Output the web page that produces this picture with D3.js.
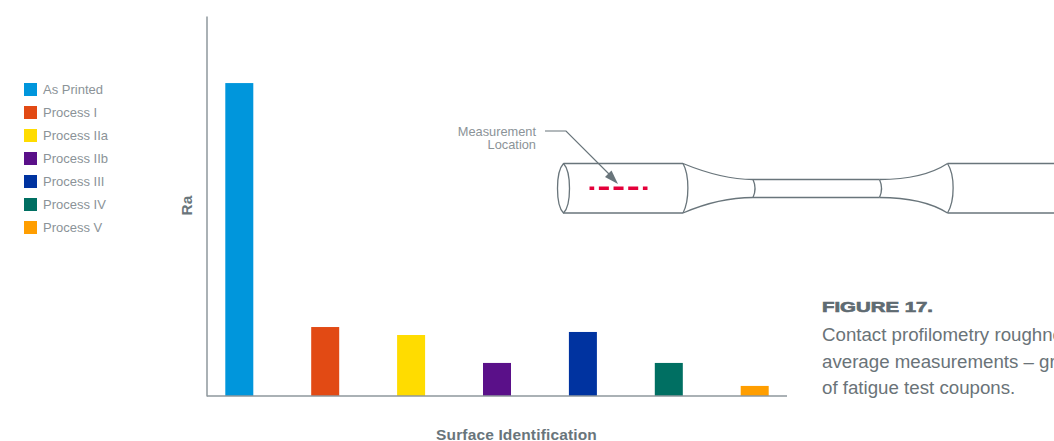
<!DOCTYPE html>
<html>
<head>
<meta charset="utf-8">
<script src="https://cdnjs.cloudflare.com/ajax/libs/d3/7.8.5/d3.min.js"></script>
<style>
  html, body { margin: 0; padding: 0; background: #fff; overflow: hidden; }
  svg { display: block; font-family: "Liberation Sans", sans-serif; }
</style>
</head>
<body>
<script>
// values are read off the bars, the chart has no y ticks so the unit is arbitrary
var categories = ["As Printed", "Process I", "Process IIa", "Process IIb", "Process III", "Process IV", "Process V"];
var roughness = [16.47, 3.63, 3.21, 1.74, 3.37, 1.74, 0.53];
var colors = ["#0096dc", "#e24a14", "#ffdc00", "#5a1089", "#0033a0", "#006f62", "#ff9e00"];
var captionLines = ["Contact profilometry roughness", "average measurements \u2013 grip section", "of fatigue test coupons."];
var calloutLines = ["Measurement", "Location"];

var width = 1054, height = 441;
var axisColor = "#8e979c", drawColor = "#69757b", lightText = "#8b9398";

var svg = d3.select("body").append("svg")
  .attr("width", width)
  .attr("height", height);

var x = d3.scaleBand()
  .domain(categories)
  .range([207, 787])
  .paddingInner(0.674)
  .paddingOuter(0.213);

var y = d3.scaleLinear()
  .domain([0, 20])
  .range([396, 16]);

var color = d3.scaleOrdinal().domain(categories).range(colors);

// bars
svg.append("g").selectAll("rect")
  .data(categories)
  .enter().append("rect")
  .attr("x", function(d) { return x(d); })
  .attr("y", function(d, i) { return y(roughness[i]); })
  .attr("width", x.bandwidth())
  .attr("height", function(d, i) { return y(0) - y(roughness[i]); })
  .attr("fill", function(d) { return color(d); });

// axes, no ticks in the original
svg.append("g")
  .attr("transform", "translate(-0.5," + (y(0) - 0.5) + ")")
  .call(d3.axisBottom(x).tickValues([]).tickSizeOuter(0));
svg.append("g")
  .attr("transform", "translate(206.5,0)")
  .call(d3.axisLeft(y).tickValues([]).tickSizeOuter(0));
svg.selectAll(".domain")
  .attr("stroke", axisColor)
  .attr("stroke-width", 1.5);

svg.append("text")
  .attr("x", 516.5)
  .attr("y", 439.5)
  .attr("text-anchor", "middle")
  .attr("font-size", 15.5)
  .attr("font-weight", "bold")
  .attr("letter-spacing", 0.15)
  .attr("fill", drawColor)
  .text("Surface Identification");

svg.append("text")
  .attr("transform", "translate(192,205.5) rotate(-90)")
  .attr("text-anchor", "middle")
  .attr("font-size", 15.5)
  .attr("font-weight", "bold")
  .attr("fill", drawColor)
  .text("Ra");

// legend
var legend = svg.append("g").selectAll("g")
  .data(categories)
  .enter().append("g")
  .attr("transform", function(d, i) { return "translate(24," + (83 + i * 23) + ")"; });

legend.append("rect")
  .attr("width", 13)
  .attr("height", 13)
  .attr("fill", function(d) { return color(d); });

legend.append("text")
  .attr("x", 19)
  .attr("y", 11)
  .attr("font-size", 13)
  .attr("fill", lightText)
  .text(function(d) { return d; });

// test coupon sketch
var sketch = svg.append("g")
  .attr("fill", "none")
  .attr("stroke", drawColor)
  .attr("stroke-width", 1.3);

var sketchPaths = [
  // left grip
  "M563.5,163.5 L683,163.5",
  "M563.5,213 L683,213",
  "M563.5,163.5 C555.5,172 555.5,205 563.5,213 C571.5,205 571.5,172 563.5,163.5",
  "M683,163.5 C689.5,175 689.5,201 683,213",
  // neck, left side
  "M683,163.5 C705,172.5 728,179.5 753,179.5",
  "M683,213 C705,203.5 728,197.5 753,197.5",
  "M753,179.5 C755.5,185 755.5,192 753,197.5",
  // gauge section
  "M753,179.5 L879.5,179.5",
  "M753,197.5 L879.5,197.5",
  "M879.5,179.5 C882,185 882,192 879.5,197.5",
  // neck, right side
  "M879.5,179.5 C905,179.5 930,175 947.5,163.5",
  "M879.5,197.5 C905,197.5 930,202 947.5,213",
  "M947.5,163.5 C955,175 955,201 947.5,213",
  // right grip runs off the page
  "M947.5,163.5 L1054,163.5",
  "M947.5,213 L1054,213"
];

sketch.selectAll("path")
  .data(sketchPaths)
  .enter().append("path")
  .attr("d", function(d) { return d; });

// measurement line
svg.append("line")
  .attr("x1", 589.5)
  .attr("x2", 647.5)
  .attr("y1", 188.3)
  .attr("y2", 188.3)
  .attr("stroke", "#e4003a")
  .attr("stroke-width", 3.5)
  .attr("stroke-dasharray", "10 4.67")
  .attr("stroke-dashoffset", 5.3);

// callout
svg.append("path")
  .attr("d", "M545,131 L566,131 L609,174")
  .attr("fill", "none")
  .attr("stroke", drawColor)
  .attr("stroke-width", 1.2);
svg.append("path")
  .attr("d", "M618,184 L605,177 L611.5,170.5 Z")
  .attr("fill", drawColor);

svg.append("g").selectAll("text")
  .data(calloutLines)
  .enter().append("text")
  .attr("x", 536)
  .attr("y", function(d, i) { return 136 + i * 13; })
  .attr("text-anchor", "end")
  .attr("font-size", 12.8)
  .attr("fill", lightText)
  .text(function(d) { return d; });

// figure caption, clipped by the page edge
svg.append("text")
  .attr("x", 822)
  .attr("y", 312)
  .attr("font-size", 15.5)
  .attr("font-weight", "bold")
  .attr("textLength", 111)
  .attr("lengthAdjust", "spacingAndGlyphs")
  .attr("stroke", "#5f6b72")
  .attr("stroke-width", 0.7)
  .attr("fill", "#5f6b72")
  .text("FIGURE 17.");

svg.append("g").selectAll("text")
  .data(captionLines)
  .enter().append("text")
  .attr("x", 822)
  .attr("y", function(d, i) { return 341 + i * 26.5; })
  .attr("font-size", 18.7)
  .attr("fill", "#6a7378")
  .text(function(d) { return d; });
</script>
</body>
</html>
